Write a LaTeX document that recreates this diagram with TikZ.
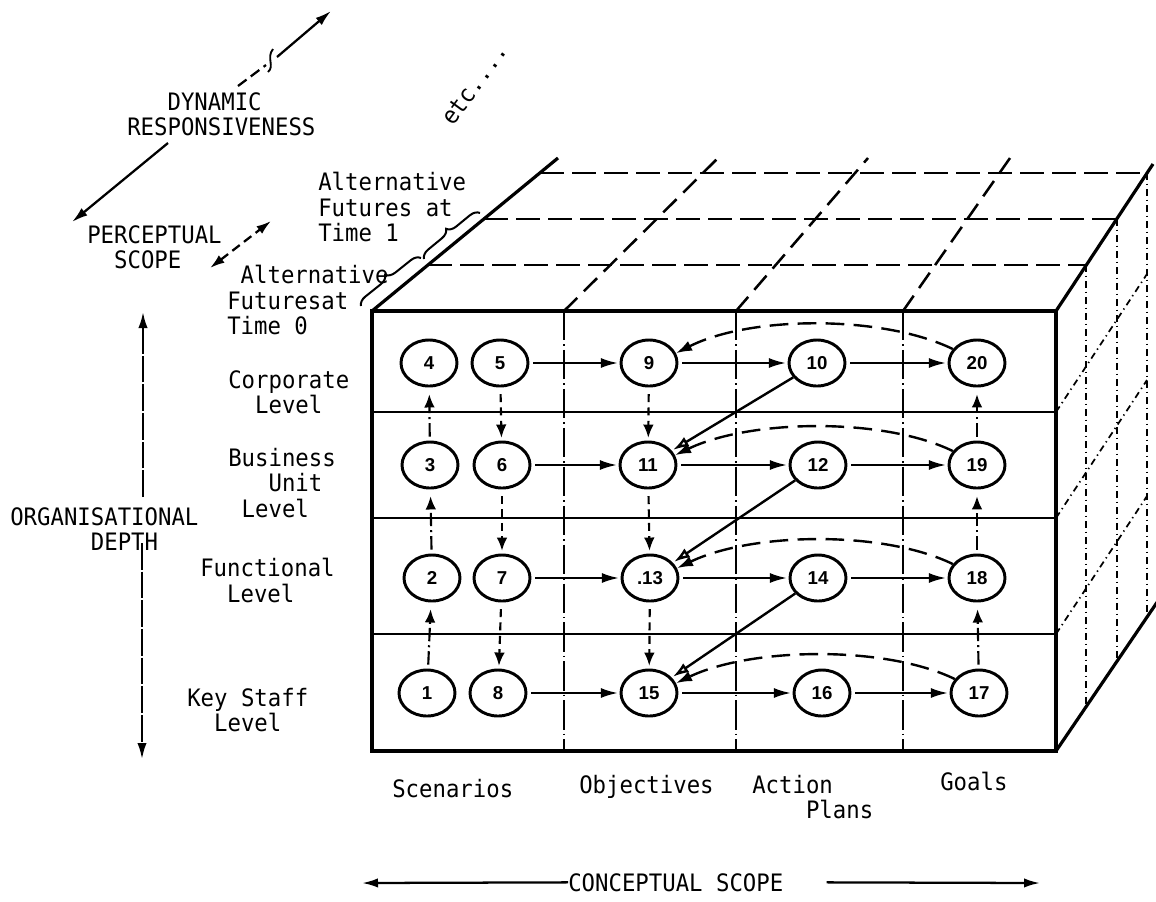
\documentclass[tikz,border=0pt]{standalone}
\usepackage{fontspec}
\usetikzlibrary{arrows.meta,shapes.geometric,decorations.pathreplacing,calc}
\newfontfamily\twfont[FakeStretch=0.93]{DejaVu Sans Mono}
\newfontfamily\numfont{Liberation Sans Bold}
\newcommand\lblfont{\twfont\fontsize{18}{19.1}\selectfont}
\begin{document}
\begin{tikzpicture}[x=0.75pt,y=-0.75pt,
  lbl/.style={font=\lblfont, inner sep=0pt, align=left, anchor=north west},
  num/.style={ellipse, draw, fill=white, line width=2.2pt, minimum width=42pt, minimum height=34.5pt, inner sep=0pt, font=\numfont\fontsize{14}{15}\selectfont},
  harr/.style={line width=1.8pt, -{Latex[length=13pt,width=7.5pt]}, shorten <=3pt, shorten >=1pt},
  diag/.style={line width=1.8pt, -{Latex[open,length=12pt,width=8pt]}, shorten >=1pt},
  backarr/.style={line width=1.8pt, dash pattern=on 14pt off 7pt, -{Latex[length=12pt,width=8pt]}},
  downarr/.style={line width=1.6pt, dash pattern=on 6pt off 4pt, -{Latex[length=10pt,width=8pt]}, shorten <=5pt, shorten >=2pt},
  uparr/.style={line width=1.6pt, dash pattern=on 10pt off 3pt on 1.5pt off 3pt, -{Latex[length=10pt,width=8pt]}, shorten <=3pt, shorten >=5pt},
  face/.style={line width=2.4pt},
  rowline/.style={line width=2.2pt},
  tdash/.style={line width=2.1pt, dash pattern=on 18pt off 6pt},
  ddash/.style={line width=1.9pt, dash pattern=on 14pt off 7pt},
  colsep/.style={line width=1.3pt, dash pattern=on 22pt off 3pt on 1.2pt off 3pt},
  sideline/.style={line width=1.3pt, dash pattern=on 5pt off 3pt on 1pt off 3pt},
  axisarr/.style={line width=1.7pt, -{Latex[length=12pt,width=7pt]}},
]
\fill[white] (0,0) rectangle (1156,901);
\useasboundingbox (0,0) rectangle (1156,901);

% ---------- top face ----------
\draw[tdash] (428,265) -- (1086,265);
\draw[tdash] (484,219) -- (1117,219);
\draw[tdash] (540,173) -- (1147,173);
\draw[ddash] (564,311) -- (718,158);
\draw[ddash] (736,311) -- (868,158);
\draw[ddash] (903,311) -- (1010,158);
\draw[face] (372,311) -- (558,158);
\draw[face] (1056,311) -- (1153,164);

% ---------- right face ----------
\draw[sideline] (1086,265) -- (1086,705);
\draw[sideline] (1117,219) -- (1117,659);
\draw[sideline] (1147,173) -- (1147,613);
\draw[sideline] (1056,412) -- (1147,274);
\draw[sideline] (1056,518) -- (1147,380);
\draw[sideline] (1056,634) -- (1147,496);
\draw[face] (1056,751) -- (1162,595);

% ---------- front face ----------
\draw[colsep] (564,311) -- (564,751);
\draw[colsep] (736,311) -- (736,751);
\draw[colsep] (903,311) -- (903,751);
\draw[rowline] (372,412) -- (1056,412);
\draw[rowline] (372,518) -- (1056,518);
\draw[rowline] (372,634) -- (1056,634);
\draw[face] (372,311) rectangle (1056,751);

% ---------- nodes ----------
\node[num] (n4)  at (429,363) {4};
\node[num] (n5)  at (500,363) {5};
\node[num] (n9)  at (649,363) {9};
\node[num] (n10) at (817,363) {10};
\node[num] (n20) at (977,363) {20};
\node[num] (n3)  at (430,465) {3};
\node[num] (n6)  at (502,465) {6};
\node[num] (n11) at (648,465) {11};
\node[num] (n12) at (818,465) {12};
\node[num] (n19) at (977,465) {19};
\node[num] (n2)  at (432,578) {2};
\node[num] (n7)  at (502,578) {7};
\node[num] (n13) at (650,578) {.13};
\node[num] (n14) at (818,578) {14};
\node[num] (n18) at (977,578) {18};
\node[num] (n1)  at (427,693) {1};
\node[num] (n8)  at (498,693) {8};
\node[num] (n15) at (649,693) {15};
\node[num] (n16) at (822,693) {16};
\node[num] (n17) at (979,693) {17};

% horizontal arrows
\draw[harr] (n5) -- (n9);
\draw[harr] (n9) -- (n10);
\draw[harr] (n10) -- (n20);
\draw[harr] (n6) -- (n11);
\draw[harr] (n11) -- (n12);
\draw[harr] (n12) -- (n19);
\draw[harr] (n7) -- (n13);
\draw[harr] (n13) -- (n14);
\draw[harr] (n14) -- (n18);
\draw[harr] (n8) -- (n15);
\draw[harr] (n15) -- (n16);
\draw[harr] (n16) -- (n17);
% diagonal arrows
\draw[diag] (n10) -- (n11);
\draw[diag] (n12) -- (n13);
\draw[diag] (n14) -- (n15);
% curved feedback arrows
\draw[backarr] (n20.150) .. controls +(-70,-34) and +(75,-38) .. (n9.20);
\draw[backarr] (n19.150) .. controls +(-70,-34) and +(75,-36) .. (n11.20);
\draw[backarr] (n18.150) .. controls +(-70,-34) and +(75,-36) .. (n13.20);
\draw[backarr] (n17.150) .. controls +(-70,-34) and +(75,-36) .. (n15.20);
% vertical arrows
\draw[downarr] (n5) -- (n6);
\draw[downarr] (n6) -- (n7);
\draw[downarr] (n7) -- (n8);
\draw[downarr] (n9) -- (n11);
\draw[downarr] (n11) -- (n13);
\draw[downarr] (n13) -- (n15);
\draw[uparr] (n1) -- (n2);
\draw[uparr] (n2) -- (n3);
\draw[uparr] (n3) -- (n4);
\draw[uparr] (n17) -- (n18);
\draw[uparr] (n18) -- (n19);
\draw[uparr] (n19) -- (n20);

% ---------- labels ----------
\node[lbl] (dyn) at (127,92) {\hphantom{XXX}DYNAMIC\\RESPONSIVENESS};
\node[lbl] (per) at (87,225) {PERCEPTUAL\\\hphantom{XX}SCOPE};
\node[lbl] (alt1) at (318,172) {Alternative\\Futures at\\Time 1};
\node[lbl] (alt0) at (227,265) {\hphantom{X}Alternative\\Futuresat\\Time 0};
\node[lbl] (org) at (10,507) {ORGANISATIONAL\\\hphantom{XXXXXX}DEPTH};
\node[lbl] (corp) at (228,370) {Corporate\\\hphantom{XX}Level};
\node[lbl] (bus) at (228,448) {Business\\\hphantom{XXX}Unit\\\hphantom{X}Level};
\node[lbl] (fun) at (200,558) {Functional\\\hphantom{XX}Level};
\node[lbl] (key) at (187,688) {Key Staff\\\hphantom{XX}Level};
\node[lbl] (scen) at (392,779) {Scenarios};
\node[lbl] (obj) at (579,775) {Objectives};
\node[lbl] (act) at (752,775) {Action\\\hphantom{XXXX}Plans};
\node[lbl] (goal) at (940,772) {Goals};
\node[lbl] (con) at (568,873) {CONCEPTUAL SCOPE};
\node[font=\lblfont, inner sep=0pt, rotate=54] (etc) at (474,84) {etc....};

% braces
\draw[line width=1.5pt, decorate, decoration={brace, amplitude=7pt}] (424,259) -- (480,213);
\draw[line width=1.5pt, decorate, decoration={brace, amplitude=7pt}] (361,306) -- (421,258);

% dynamic responsiveness
\coordinate (dynA) at (168,143);
\coordinate (dynB) at (72,222);
\coordinate (dynC) at (238,86);
\coordinate (dynD) at (266,65);
\coordinate (dynE) at (277,57);
\coordinate (dynF) at (331,11);
\draw[axisarr] (dynA) -- (dynB);
\draw[line width=1.7pt, dash pattern=on 8pt off 4pt] (dynC) -- (dynD);
\draw[line width=1.4pt] (268,72) .. controls (275,66) and (266,58) .. (273,49);
\draw[axisarr] (dynE) -- (dynF);

% perceptual scope
\coordinate (perA) at (210,268);
\coordinate (perB) at (271,221);
\draw[line width=1.7pt, dash pattern=on 7pt off 4pt, {Latex[length=11pt,width=7pt]}-{Latex[length=11pt,width=7pt]}] (perA) -- (perB);

% organisational depth
\coordinate (orgT) at (143,312);
\coordinate (orgB) at (142,759);
\draw[axisarr, dash pattern=on 20pt off 1.5pt] (143,497) -- (orgT);
\draw[axisarr, dash pattern=on 20pt off 1.5pt] (142,543) -- (orgB);

% conceptual scope
\coordinate (conL) at (362,883);
\coordinate (conR) at (1040,883);
\draw[axisarr] (con.west) -- (conL);
\draw[axisarr] ($(con.east)+(43,0)$) -- (conR);
\end{tikzpicture}
\end{document}
